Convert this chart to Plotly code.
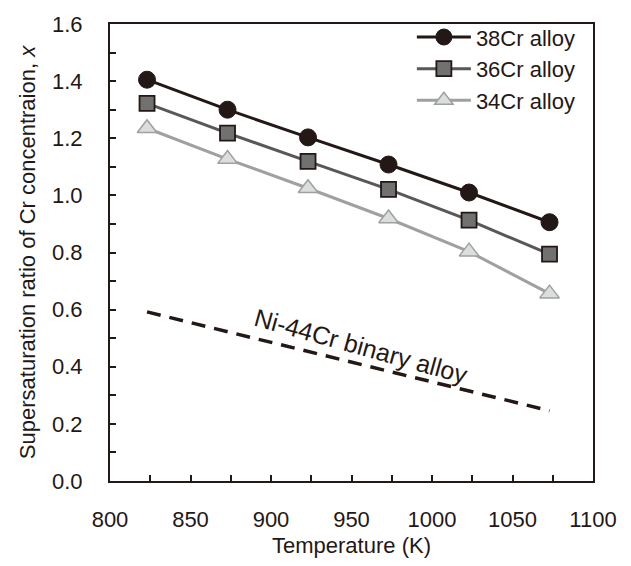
import plotly.graph_objects as go

temps = [823, 873, 923, 973, 1023, 1073]
cr38 = [1.405, 1.300, 1.203, 1.108, 1.010, 0.906]
cr36 = [1.322, 1.218, 1.119, 1.021, 0.913, 0.794]
cr34 = [1.235, 1.127, 1.025, 0.919, 0.803, 0.656]
binary_t = [823, 1073]
binary_x = [0.592, 0.246]

FONT = "Liberation Sans, Arial, sans-serif"
INK = "#231815"
FS = 22

fig = go.Figure()
fig.add_trace(go.Scatter(
    x=temps, y=cr38, name="38Cr alloy", mode="lines+markers",
    line=dict(color=INK, width=3),
    marker=dict(symbol="circle", size=17, color=INK, line=dict(color=INK, width=1))))
fig.add_trace(go.Scatter(
    x=temps, y=cr36, name="36Cr alloy", mode="lines+markers",
    line=dict(color="#595757", width=3),
    marker=dict(symbol="square", size=15, color="#727171", line=dict(color=INK, width=1.8))))
fig.add_trace(go.Scatter(
    x=temps, y=cr34, name="34Cr alloy", mode="lines+markers",
    line=dict(color="#9fa0a0", width=3),
    marker=dict(symbol="triangle-up", size=17, color="#dcdddd", line=dict(color="#9fa0a0", width=1.5))))
fig.add_trace(go.Scatter(
    x=binary_t, y=binary_x, mode="lines", showlegend=False,
    line=dict(color=INK, width=3.5, dash="14px,9px")))

fig.add_annotation(x=956, y=0.472, text="Ni-44Cr binary alloy", showarrow=False,
                   textangle=15.5, font=dict(size=25, color=INK, family=FONT))

axis_common = dict(showline=True, linecolor=INK, linewidth=2, mirror=True,
                   ticks="inside", ticklen=6, tickwidth=1.5, tickcolor=INK,
                   showgrid=False, zeroline=False,
                   tickfont=dict(size=FS, color=INK, family=FONT))

fig.update_xaxes(range=[800, 1100], dtick=50, tick0=800, ticklabelstandoff=18,
                 minor=dict(dtick=25, ticks="inside", ticklen=6, tickwidth=1.5, tickcolor=INK),
                 title=dict(text="Temperature (K)", font=dict(size=FS, color=INK, family=FONT), standoff=6),
                 **axis_common)
fig.update_yaxes(range=[0, 1.6], dtick=0.2, tick0=0, tickformat=".1f", ticklabelstandoff=21,
                 minor=dict(dtick=0.1, ticks="inside", ticklen=6, tickwidth=1.5, tickcolor=INK),
                 title=dict(text="Supersaturation ratio of Cr concentraion, <i>x</i>",
                            font=dict(size=FS, color=INK, family=FONT), standoff=10),
                 **axis_common)

fig.update_layout(
    width=631, height=566,
    margin=dict(l=110, r=38, t=16, b=80),
    paper_bgcolor="white", plot_bgcolor="white",
    font=dict(family=FONT, color=INK),
    legend=dict(x=0.625, y=1.017, xanchor="left", yanchor="top",
                bgcolor="rgba(0,0,0,0)", itemwidth=54, tracegroupgap=0,
                font=dict(size=FS, color=INK, family=FONT)),
)

fig.write_html("out.html")
